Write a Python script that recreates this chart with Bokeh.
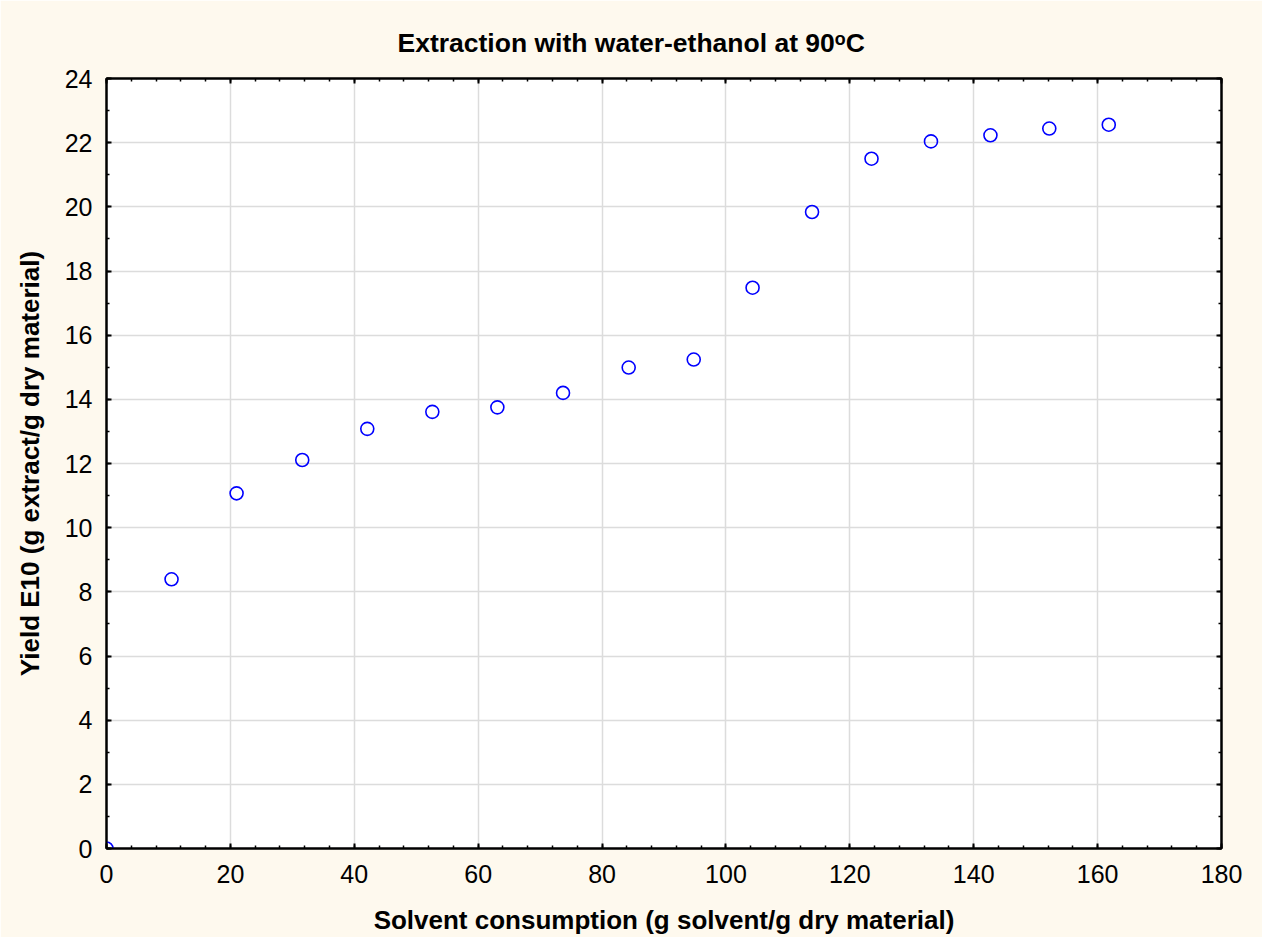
from bokeh.plotting import figure
from bokeh.models import LinearAxis, SingleIntervalTicker, Range1d, Title
from bokeh.embed import file_html
from bokeh.resources import INLINE

solvent = [0, 10.5, 21.0, 31.6, 42.1, 52.6, 63.1, 73.7, 84.3, 94.8, 104.3, 113.9, 123.5, 133.1, 142.7, 152.2, 161.8]
yield_e10 = [0, 8.39, 11.07, 12.11, 13.08, 13.61, 13.75, 14.20, 14.99, 15.24, 17.48, 19.84, 21.50, 22.04, 22.23, 22.44, 22.56]

title_text = "Extraction with water-ethanol at 90\u1d52C"
x_label = "Solvent consumption (g solvent/g dry material)"
y_label = "Yield E10 (g extract/g dry material)"

FONT = "Liberation Sans"
BG = "#fef9ee"

p = figure(width=1262, height=937, output_backend="svg", toolbar_location=None,
           x_range=Range1d(0, 180), y_range=Range1d(0, 24),
           x_axis_location=None, y_axis_location=None,
           min_border_left=106, min_border_right=41, min_border_top=78, min_border_bottom=89,
           background_fill_color="white", border_fill_color=BG)
p.outline_line_color = "black"
p.outline_line_width = 2


def make_axis(ticker_interval, minor, show_labels, label=None, tick_standoff=12, label_standoff=14):
    ax = LinearAxis(ticker=SingleIntervalTicker(interval=ticker_interval, num_minor_ticks=minor))
    ax.axis_line_color = "black"
    ax.axis_line_width = 2
    ax.major_tick_in = 5
    ax.major_tick_out = 0
    ax.minor_tick_in = 3
    ax.minor_tick_out = 0
    ax.major_tick_line_color = "black"
    ax.major_tick_line_width = 2
    ax.minor_tick_line_color = "black"
    ax.minor_tick_line_width = 1.5
    if show_labels:
        ax.major_label_text_font = FONT
        ax.major_label_text_font_size = "25px"
        ax.major_label_text_color = "black"
        ax.major_label_standoff = tick_standoff
    else:
        ax.major_label_text_font_size = "0px"
        ax.major_label_standoff = 0
        ax.major_label_text_color = None
    if label:
        ax.axis_label = label
        ax.axis_label_text_font = FONT
        ax.axis_label_text_font_size = "26px"
        ax.axis_label_text_font_style = "bold"
        ax.axis_label_text_color = "black"
        ax.axis_label_standoff = label_standoff
    return ax


xb = make_axis(20, 5, True, x_label, tick_standoff=16, label_standoff=19)
yl = make_axis(2, 2, True, y_label, tick_standoff=14, label_standoff=17)
xt = make_axis(20, 5, False)
yr = make_axis(2, 2, False)
p.add_layout(xb, "below")
p.add_layout(yl, "left")
p.add_layout(xt, "above")
p.add_layout(yr, "right")

p.xgrid.ticker = SingleIntervalTicker(interval=20)
p.ygrid.ticker = SingleIntervalTicker(interval=2)
p.grid.grid_line_color = "#dcdcdc"
p.grid.grid_line_width = 1.5

t = Title(text=title_text, align="left", offset=291, text_font=FONT,
          text_font_size="26.5px", text_font_style="bold", text_color="black", standoff=42)
p.add_layout(t, "above")

p.scatter(solvent, yield_e10, marker="circle", size=13, line_color="#0000ff",
          line_width=1.6, fill_color=None)

open("out.html", "w").write(file_html(p, INLINE))
